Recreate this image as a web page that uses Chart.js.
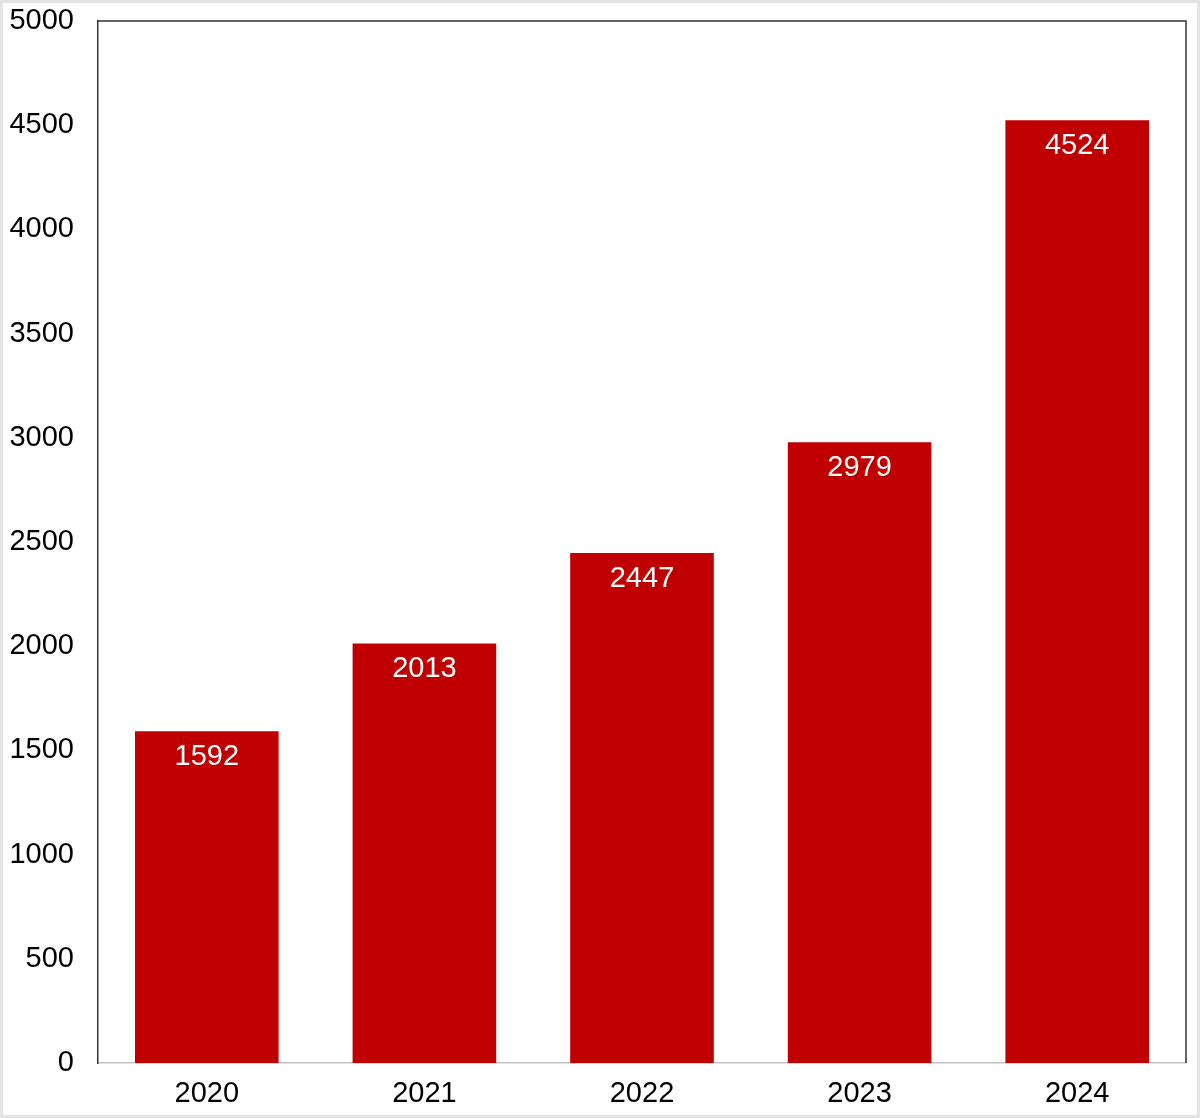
<!DOCTYPE html>
<html>
<head>
<meta charset="utf-8">
<script src="https://cdn.jsdelivr.net/npm/chart.js@4"></script>
<style>
  html, body { margin: 0; padding: 0; background: #fff; }
  #wrap { width: 1200px; height: 1118px; }
</style>
</head>
<body>
<div id="wrap"><canvas id="chart" width="1200" height="1118"></canvas></div>
<script>
// data
var years = ["2020", "2021", "2022", "2023", "2024"];
var counts = [1592, 2013, 2447, 2979, 4524];
var yTicks = [0, 500, 1000, 1500, 2000, 2500, 3000, 3500, 4000, 4500, 5000];

var FONT = "'Liberation Sans', Arial, Helvetica, sans-serif";

// frame round the picture + top/right edges of the plot
var framePlugin = {
    id: 'frame',
    beforeDraw: function (chart) {
        var c = chart.ctx;
        c.save();
        c.fillStyle = '#fff';
        c.fillRect(0, 0, chart.width, chart.height);
        c.strokeStyle = '#e3e3e3';
        c.lineWidth = 3;
        c.strokeRect(1.5, 1.5, chart.width - 3, chart.height - 3);
        c.restore();
    },
    afterDraw: function (chart) {
        var a = chart.chartArea, c = chart.ctx;
        c.save();
        c.strokeStyle = '#333';
        c.lineWidth = 1.5;
        c.beginPath();
        c.moveTo(a.left, a.top);
        c.lineTo(a.right, a.top);
        c.lineTo(a.right, a.bottom);
        c.stroke();
        c.restore();
    }
};

// value labels inside the top of each bar
var valueLabels = {
    id: 'valueLabels',
    afterDatasetsDraw: function (chart) {
        var c = chart.ctx;
        var meta = chart.getDatasetMeta(0);
        c.save();
        c.fillStyle = '#fff';
        c.font = '29px ' + FONT;
        c.textAlign = 'center';
        c.textBaseline = 'middle';
        meta.data.forEach(function (bar, i) {
            c.fillText(String(counts[i]), bar.x, bar.y + 26);
        });
        c.restore();
    }
};

var ctx = document.querySelector('#chart').getContext('2d');
var chart = new Chart(ctx, {
    type: 'bar',
    data: {
        labels: years,
        datasets: [{
            data: counts,
            backgroundColor: '#C00000',
            borderWidth: 0,
            barPercentage: 0.66,
            categoryPercentage: 1.0
        }]
    },
    options: {
        responsive: false,
        animation: false,
        layout: { padding: { top: 21, right: 14, left: 0, bottom: 0 } },
        plugins: {
            legend: { display: false },
            tooltip: { enabled: false }
        },
        scales: {
            x: {
                grid: { display: false, drawTicks: false },
                border: { display: true, color: '#c4c4c4', width: 1.5 },
                ticks: {
                    color: '#000',
                    font: { family: FONT, size: 29 },
                    padding: 14,
                    maxRotation: 0
                },
                afterFit: function (s) {
                    s.height = 55;
                    s.paddingLeft = 0;
                    s.paddingRight = 0;
                }
            },
            y: {
                min: 0,
                max: 5000,
                afterBuildTicks: function (s) {
                    s.ticks = yTicks.map(function (v) { return { value: v }; });
                },
                grid: { display: false, drawTicks: false },
                border: { display: true, color: '#333', width: 1.5 },
                ticks: {
                    color: '#000',
                    font: { family: FONT, size: 29 },
                    padding: 24,
                    callback: function (v) { return String(v); }
                },
                afterFit: function (s) {
                    s.width = 98;
                    s.paddingTop = 0;
                    s.paddingBottom = 0;
                }
            }
        }
    },
    plugins: [framePlugin, valueLabels]
});
</script>
</body>
</html>
